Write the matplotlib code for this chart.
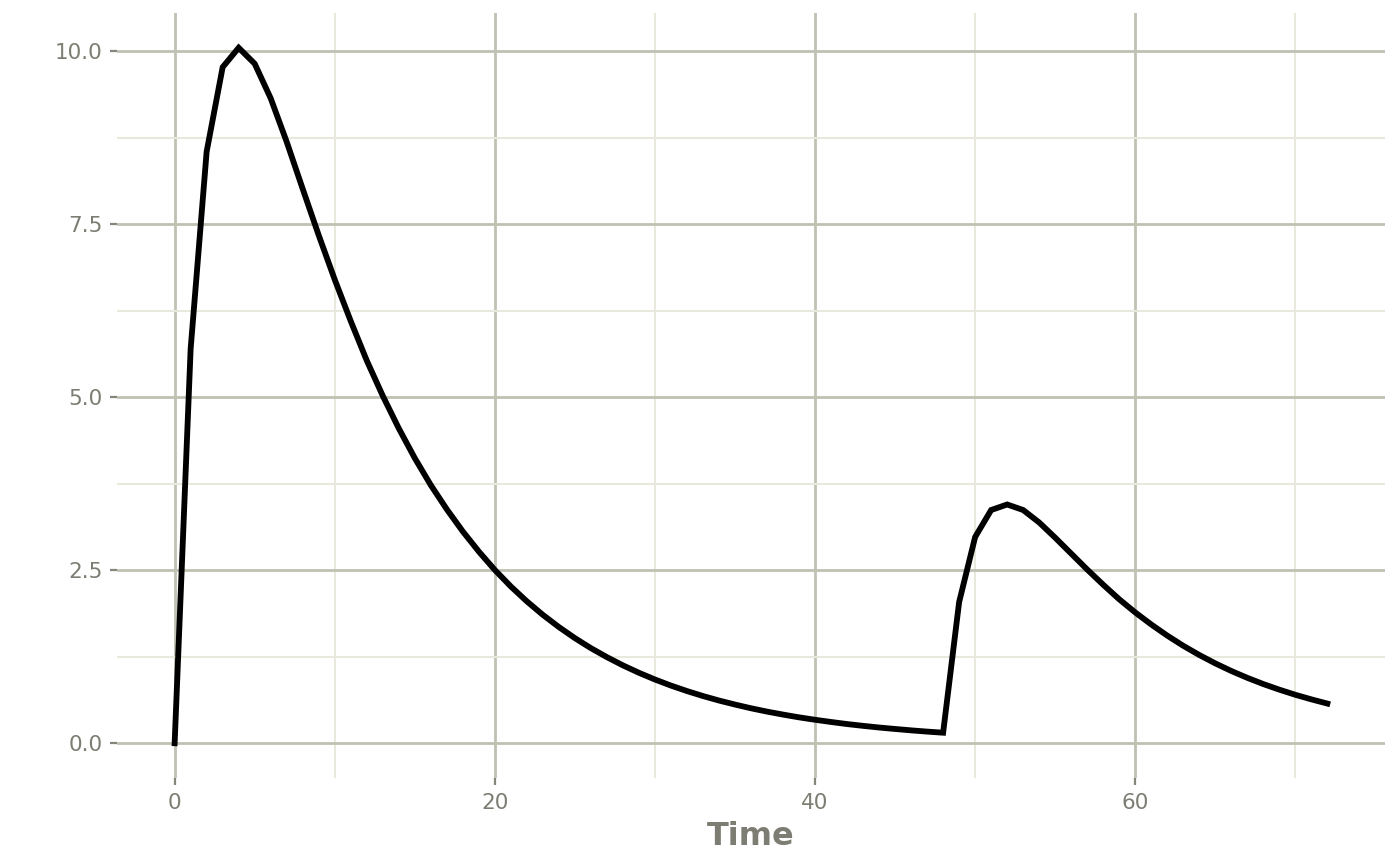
import numpy as np
import matplotlib
matplotlib.use("Agg")
import matplotlib.pyplot as plt
from matplotlib.ticker import FormatStrFormatter

# === DATA (hourly) ===
time = list(range(0, 73))
conc = [
    0.000, 5.700, 8.550, 9.770, 10.050, 9.820, 9.320, 8.690, 8.010, 7.340,
    6.700, 6.100, 5.530, 5.020, 4.550, 4.120, 3.730, 3.380, 3.060, 2.770,
    2.504, 2.265, 2.050, 1.855, 1.679, 1.519, 1.374, 1.244, 1.125, 1.018,
    0.921, 0.833, 0.754, 0.682, 0.617, 0.559, 0.505, 0.457, 0.414, 0.374,
    0.339, 0.307, 0.277, 0.251, 0.227, 0.206, 0.186, 0.168, 0.152,
    2.040, 2.980, 3.370, 3.450, 3.370, 3.190, 2.970, 2.740, 2.510, 2.290,
    2.080, 1.890, 1.716, 1.555, 1.408, 1.275, 1.154, 1.044, 0.945, 0.855,
    0.774, 0.700, 0.634, 0.573,
]
x_major = [0, 20, 40, 60]
x_minor = [10, 30, 50, 70]
y_major = [0.0, 2.5, 5.0, 7.5, 10.0]
y_minor = [1.25, 3.75, 6.25, 8.75]

# === STYLE ===
text_col = "#7d7d73"
major_col = "#c0c1b3"
minor_col = "#e8e8dc"

fig = plt.figure(figsize=(14, 8.65), dpi=100)
ax = fig.add_axes([117 / 1400, 1 - 778 / 865, (1385 - 117) / 1400, (778 - 13) / 865])

ax.plot(time, conc, color="black", lw=4.2, solid_joinstyle="miter", zorder=3)

# ggplot-like 5% expansion
xr = max(time) - min(time)
yr = max(conc) - min(conc)
ax.set_xlim(min(time) - 0.05 * xr, max(time) + 0.05 * xr)
ax.set_ylim(min(conc) - 0.05 * yr, max(conc) + 0.05 * yr)

ax.set_xticks(x_major)
ax.set_xticks(x_minor, minor=True)
ax.set_yticks(y_major)
ax.set_yticks(y_minor, minor=True)
ax.yaxis.set_major_formatter(FormatStrFormatter("%.1f"))

ax.grid(which="major", color=major_col, lw=2.0, zorder=1)
ax.grid(which="minor", color=minor_col, lw=1.5, zorder=0)
ax.set_axisbelow(True)

for s in ax.spines.values():
    s.set_visible(False)

ax.tick_params(which="major", length=5, width=1.6, color="#85857b",
               labelcolor=text_col, labelsize=15.5, pad=5.5)
ax.tick_params(which="minor", length=0)

ax.set_xlabel("Time", fontsize=23, fontweight="bold", color=text_col, labelpad=6)

fig.savefig("out.png", dpi=100, facecolor="white")
